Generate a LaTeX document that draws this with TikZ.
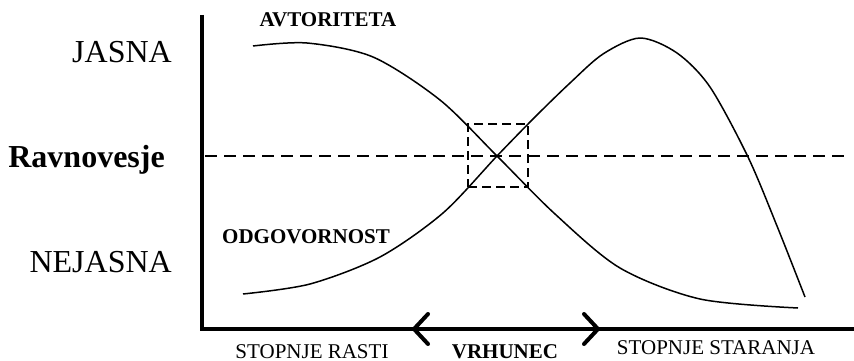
\documentclass[tikz,border=0pt]{standalone}
\usepackage{fontspec}
\setmainfont{Liberation Serif}
\usetikzlibrary{arrows.meta,positioning}
\tikzset{
  levellabel/.style={font=\fontsize{32}{36}\selectfont, anchor=base east, inner sep=0pt},
  phaselabel/.style={font=\fontsize{21}{24}\selectfont, anchor=base, inner sep=0pt},
  curvelabel/.style={font=\fontsize{21}{24}\selectfont\bfseries, anchor=base, inner sep=0pt},
  axisline/.style={line width=4pt},
  curveline/.style={line width=1.5pt, line join=round},
  guideline/.style={line width=2pt, dash pattern=on 12pt off 7pt},
  zonebox/.style={draw, line width=1.8pt, dash pattern=on 9pt off 5pt, inner sep=0pt,
    minimum width=60pt, minimum height=63pt},
  peakarrow/.style={line width=4pt,
    {Straight Barb[length=14pt,width=30pt,round]}-{Straight Barb[length=14pt,width=30pt,round]}}
}

\begin{document}
\begin{tikzpicture}[x=1pt,y=-1pt]
\useasboundingbox (0,0) rectangle (854,361);
\coordinate (top) at (202,15);
\coordinate (origin) at (202,329);
\coordinate (xend) at (854,329);
\draw[axisline] (top) -- (origin) -- (xend);
\coordinate (growth) at (412,329);
\coordinate (aging) at (600,329);
\draw[peakarrow] (growth) -- (aging);
\coordinate (eqleft) at (205,156);
\coordinate (eqright) at (850,156);
\draw[guideline] (eqleft) -- (eqright);
\node[zonebox] (crossing) at (498,155.5) {};
\draw[curveline] plot[smooth] coordinates {(253,46) (307,43) (373,57) (440,100)
  (497,156) (555,214) (620,268) (700,299) (798,308)};
\draw[curveline] plot[smooth] coordinates {(243,294) (310,284) (380,257) (443,213)
  (497,156) (535,117) (570,83) (603,54) (640,38) (677,53) (710,87) (748,157) (777,226)
  (805,297)};
\node[levellabel] (clear) at (172,63) {JASNA};
\node[levellabel, font=\fontsize{32}{36}\selectfont\bfseries] (balance) at (165,167) {Ravnovesje};
\node[levellabel] (unclear) at (172,272) {NEJASNA};
\node[curvelabel] (authority) at (328,27) {AVTORITETA};
\node[curvelabel] (responsibility) at (306,243) {ODGOVORNOST};
\node[phaselabel] (rise) at (312,358) {STOPNJE RASTI};
\node[curvelabel] (peak) at (505,358) {VRHUNEC};
\node[phaselabel] (decline) at (716,354) {STOPNJE STARANJA};
\end{tikzpicture}
\end{document}
